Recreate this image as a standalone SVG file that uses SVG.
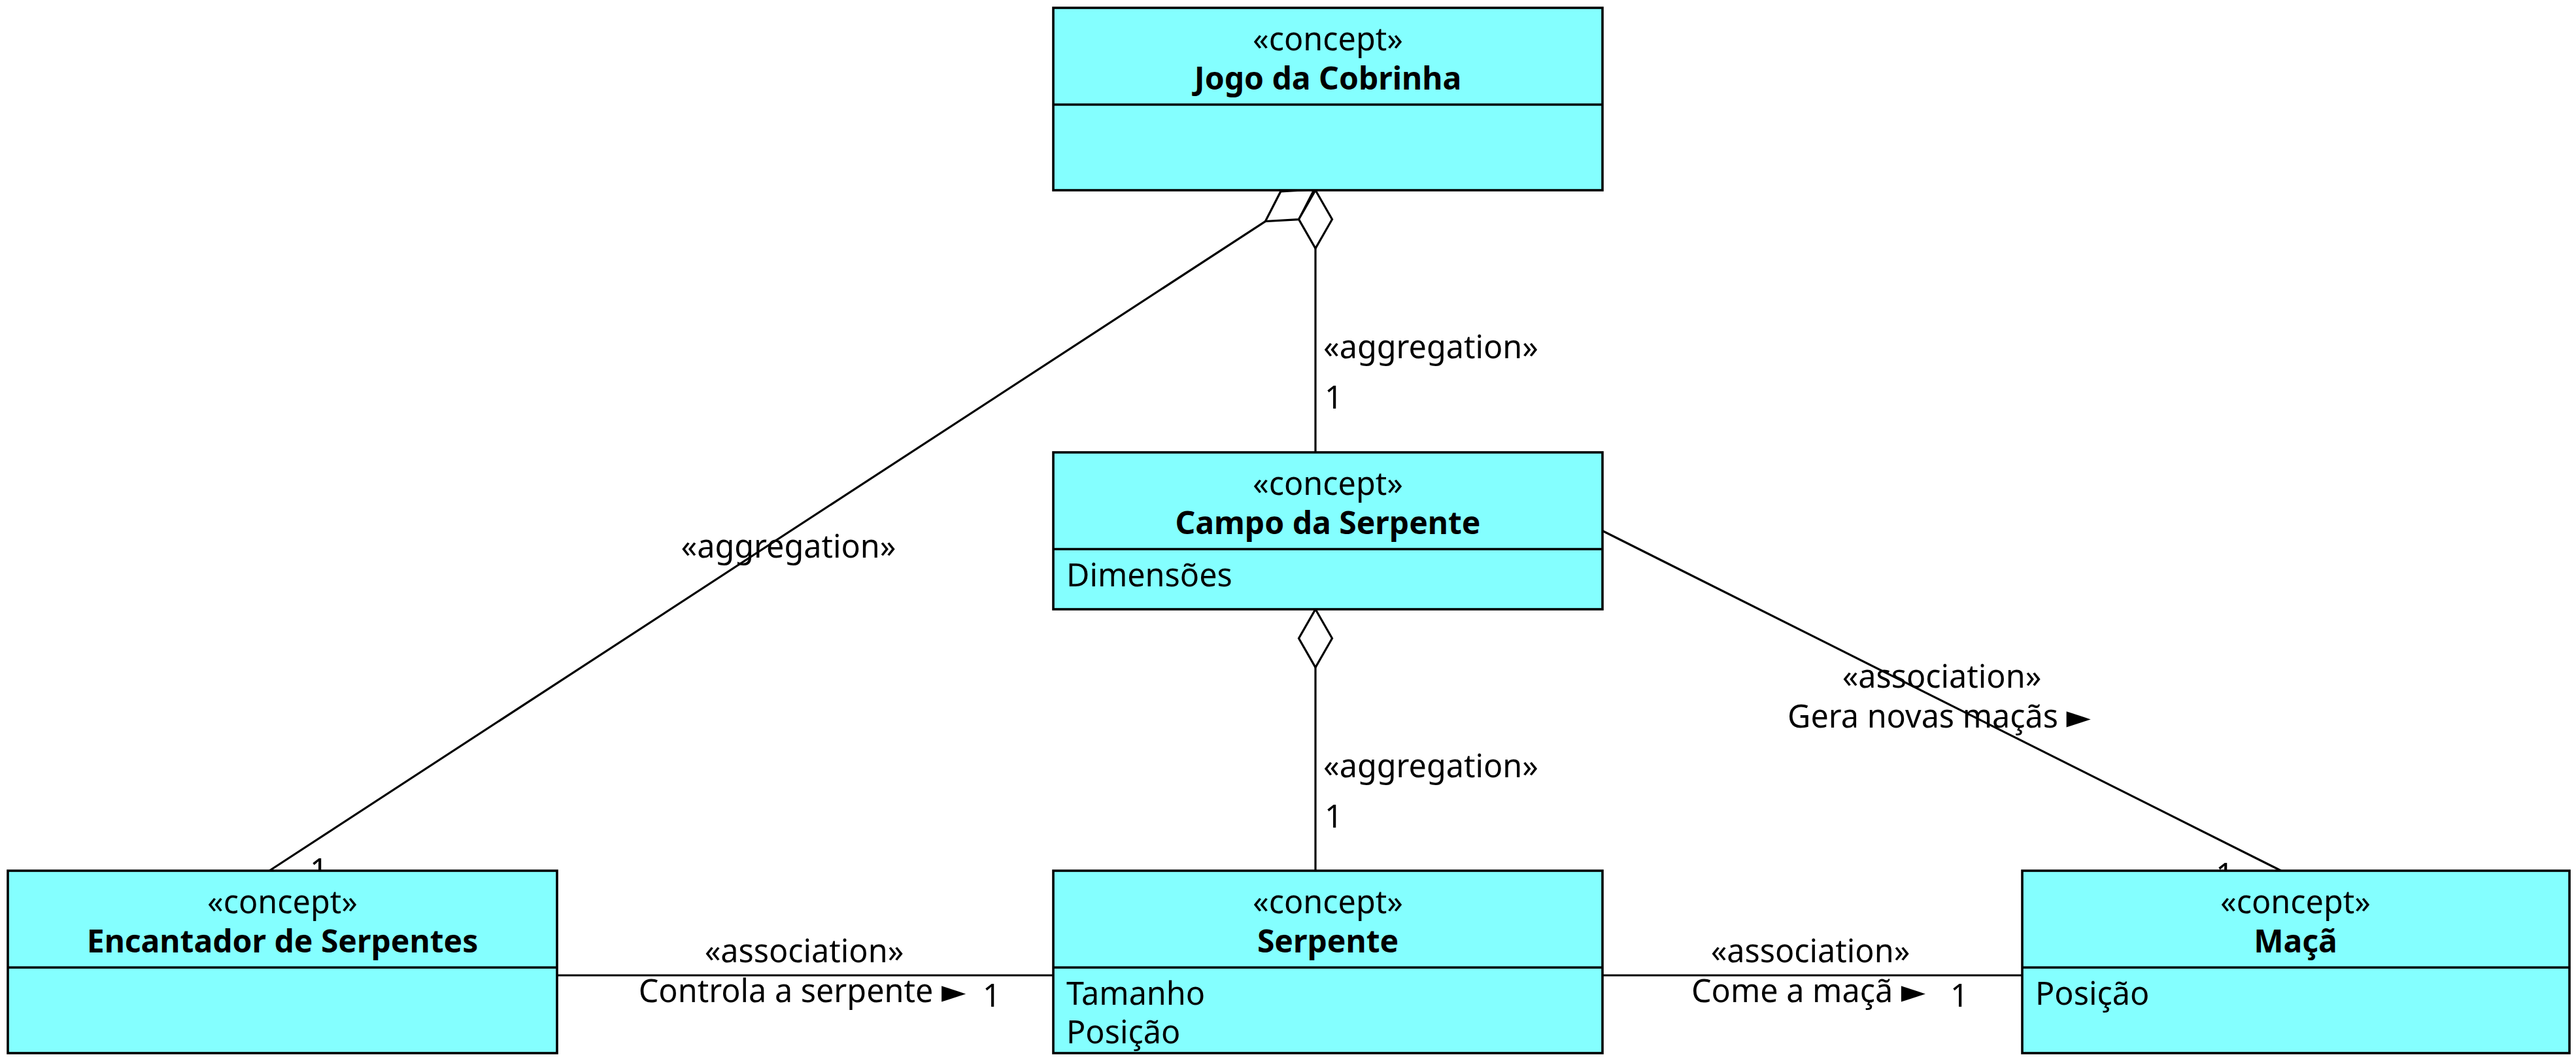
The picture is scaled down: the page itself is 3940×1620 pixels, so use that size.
<svg xmlns="http://www.w3.org/2000/svg" width="3940" height="1620" viewBox="0 0 3940 1620">
<style>
.box{fill:#84FFFF;stroke:#000;stroke-width:3.6}
.div{stroke:#000;stroke-width:3.6}
.ln{stroke:#000;stroke-width:3.2;fill:none}
.dia{fill:#fff;stroke:#000;stroke-width:3.2;stroke-linejoin:miter}
text{font-family:"Noto Sans","DejaVu Sans",sans-serif;font-size:48.5px;fill:#000}
.c{text-anchor:middle}
.b{font-weight:bold;font-size:48px}
</style>
<rect width="3940" height="1620" fill="#fff"/>
<g id="connectors">
  <line class="ln" x1="412" y1="1332" x2="1935.4" y2="338.6"/>
  <polygon class="dia" points="2010,290 1958.8,292.9 1935.4,338.6 1986.6,335.7"/>
  <line class="ln" x1="2012" y1="380" x2="2012" y2="692"/>
  <polygon class="dia" points="2012,291 2037.5,335.5 2012,380 1986.5,335.5"/>
  <line class="ln" x1="2012" y1="1021" x2="2012" y2="1332"/>
  <polygon class="dia" points="2012,932 2037.5,976.5 2012,1021 1986.5,976.5"/>
  <line class="ln" x1="852" y1="1492" x2="1611" y2="1492"/>
  <line class="ln" x1="2451" y1="1492" x2="3093" y2="1492"/>
  <line class="ln" x1="2451" y1="812" x2="3489" y2="1332"/>
  <text class="c" x="1206" y="853">«aggregation»</text>
  <text x="474" y="1348">1</text>
  <text x="2024" y="548">«aggregation»</text>
  <text x="2026" y="625">1</text>
  <text x="2024" y="1189">«aggregation»</text>
  <text x="2026" y="1266">1</text>
  <text class="c" x="2970" y="1052">«association»</text>
  <text class="c" x="2966" y="1113">Gera novas maçãs ►</text>
  <text x="3389" y="1355">1</text>
  <text class="c" x="1230" y="1472">«association»</text>
  <text class="c" x="1227" y="1533">Controla a serpente ►</text>
  <text x="1503" y="1540">1</text>
  <text class="c" x="2769" y="1472">«association»</text>
  <text class="c" x="2766" y="1533">Come a maçã ►</text>
  <text x="2983" y="1540">1</text>
</g>
<g id="jogo">
  <rect class="box" x="1611" y="12" width="840" height="279"/>
  <line class="div" x1="1611" y1="160" x2="2451" y2="160"/>
  <text class="c" x="2031" y="77">«concept»</text>
  <text class="c b" x="2031" y="137">Jogo da Cobrinha</text>
</g>
<g id="campo">
  <rect class="box" x="1611" y="692" width="840" height="240"/>
  <line class="div" x1="1611" y1="840" x2="2451" y2="840"/>
  <text class="c" x="2031" y="757">«concept»</text>
  <text class="c b" x="2031" y="817">Campo da Serpente</text>
  <text x="1631" y="897">Dimensões</text>
</g>
<g id="encantador">
  <rect class="box" x="12" y="1332" width="840" height="279"/>
  <line class="div" x1="12" y1="1480" x2="852" y2="1480"/>
  <text class="c" x="432" y="1397">«concept»</text>
  <text class="c b" x="432" y="1457">Encantador de Serpentes</text>
</g>
<g id="serpente">
  <rect class="box" x="1611" y="1332" width="840" height="279"/>
  <line class="div" x1="1611" y1="1480" x2="2451" y2="1480"/>
  <text class="c" x="2031" y="1397">«concept»</text>
  <text class="c b" x="2031" y="1457">Serpente</text>
  <text x="1631" y="1537">Tamanho</text>
  <text x="1631" y="1596">Posição</text>
</g>
<g id="maca">
  <rect class="box" x="3093" y="1332" width="837" height="279"/>
  <line class="div" x1="3093" y1="1480" x2="3930" y2="1480"/>
  <text class="c" x="3511" y="1397">«concept»</text>
  <text class="c b" x="3511" y="1457">Maçã</text>
  <text x="3113" y="1537">Posição</text>
</g>
</svg>
